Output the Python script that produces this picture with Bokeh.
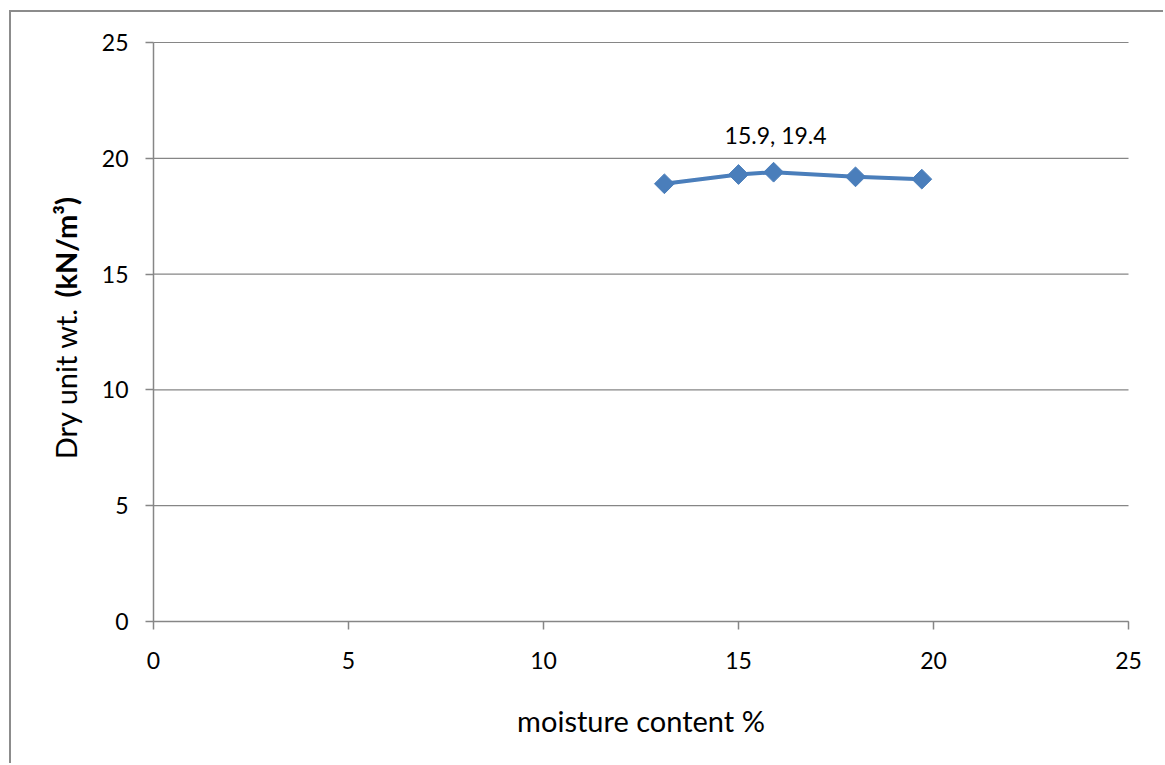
import math
from bokeh.plotting import figure
from bokeh.models import Range1d, Label, FixedTicker, ColumnDataSource, LinearAxis
from bokeh.embed import file_html
from bokeh.resources import INLINE

moisture = [13.1, 15.0, 15.9, 18.0, 19.7]
dry_unit_wt = [18.9, 19.3, 19.4, 19.2, 19.1]
peak_x = 15.9
peak_y = 19.4
x_ticks = [0, 5, 10, 15, 20, 25]
y_ticks = [0, 5, 10, 15, 20, 25]
x_title = "moisture content %"
y_title = "Dry unit wt."
y_unit = "(kN/m³)"

FONT = "Lato"
GREY = "#868686"
BLUE = "#4a7ebb"

OFF_X, OFF_Y = 9, 10            # page offset of the outer chart box
CANVAS_LEFT, CANVAS_TOP = OFF_X + 2, OFF_Y + 2
# page pixel positions of the value axes
AX_L, AX_R, AX_T, AX_B = 153, 1128, 42, 621
# page pixel extent of the plotting frame (covers the axis texts too)
FR_L, FR_R, FR_T, FR_B = 30, 1150, 20, 760

px_per_x = (AX_R - AX_L) / (x_ticks[-1] - x_ticks[0])
px_per_y = (AX_B - AX_T) / (y_ticks[-1] - y_ticks[0])
def xd(px):
    return x_ticks[0] + (px - AX_L) / px_per_x
def yd(py):
    return y_ticks[0] + (AX_B - py) / px_per_y

p = figure(width=1165 - CANVAS_LEFT, height=765 - CANVAS_TOP, output_backend="svg", toolbar_location=None,
           x_range=Range1d(xd(FR_L), xd(FR_R)), y_range=Range1d(yd(FR_B), yd(FR_T)),
           x_axis_type=None, y_axis_type=None,
           min_border_left=FR_L - CANVAS_LEFT, min_border_right=1165 - FR_R,
           min_border_top=FR_T - CANVAS_TOP, min_border_bottom=765 - FR_B)
p.styles = {"margin-left": f"{OFF_X}px", "margin-top": f"{OFF_Y}px",
            "border-left": "2px solid #8c8c8c", "border-top": "2px solid #8c8c8c"}
p.outline_line_color = None
p.background_fill_color = "white"
p.border_fill_color = "white"
p.xgrid.grid_line_color = None
p.ygrid.grid_line_color = None

xaxis = LinearAxis(ticker=FixedTicker(ticks=x_ticks), bounds=(x_ticks[0], x_ticks[-1]),
                   fixed_location=y_ticks[0])
yaxis = LinearAxis(ticker=FixedTicker(ticks=y_ticks), bounds=(y_ticks[0], y_ticks[-1]),
                   fixed_location=x_ticks[0])
p.add_layout(xaxis, "below")
p.add_layout(yaxis, "left")

for ax in (xaxis, yaxis):
    ax.axis_line_color = GREY
    ax.axis_line_width = 1.5
    ax.major_tick_line_color = GREY
    ax.major_tick_line_width = 1.5
    ax.major_tick_out = 8
    ax.major_tick_in = 0
    ax.minor_tick_line_color = None
    ax.major_label_text_font = FONT
    ax.major_label_text_font_size = "23px"
    ax.major_label_text_color = "black"

xaxis.major_label_standoff = 22
yaxis.major_label_standoff = 17

# horizontal gridlines at the y ticks, spanning the x tick extent
p.segment(x0=[x_ticks[0]] * len(y_ticks), x1=[x_ticks[-1]] * len(y_ticks),
          y0=y_ticks, y1=y_ticks, line_color=GREY, line_width=1.2, level="underlay")

src = ColumnDataSource(dict(x=moisture, y=dry_unit_wt))
p.line("x", "y", source=src, line_color=BLUE, line_width=4)
p.scatter("x", "y", source=src, marker="square", size=14, angle=math.pi / 4,
          fill_color=BLUE, line_color=BLUE)

p.add_layout(Label(x=peak_x, y=peak_y, text=f"{peak_x}, {peak_y}", x_offset=2, y_offset=37,
                   text_align="center", text_baseline="middle", text_font=FONT,
                   text_font_size="23px", text_color="black"))

# axis titles
p.add_layout(Label(x=(x_ticks[0] + x_ticks[-1]) / 2, y=yd(720), text=x_title,
                   text_align="center", text_baseline="middle", text_font=FONT,
                   text_font_size="29px", text_color="black"))
p.add_layout(Label(x=xd(65), y=yd(307), text=y_title, angle=math.pi / 2,
                   text_align="right", text_baseline="middle", text_font=FONT,
                   text_font_size="29px", text_color="black"))
p.add_layout(Label(x=xd(65), y=yd(297), text=y_unit, angle=math.pi / 2,
                   text_align="left", text_baseline="middle", text_font=FONT,
                   text_font_size="29px", text_font_style="bold", text_color="black"))

open("out.html", "w").write(file_html(p, INLINE))
